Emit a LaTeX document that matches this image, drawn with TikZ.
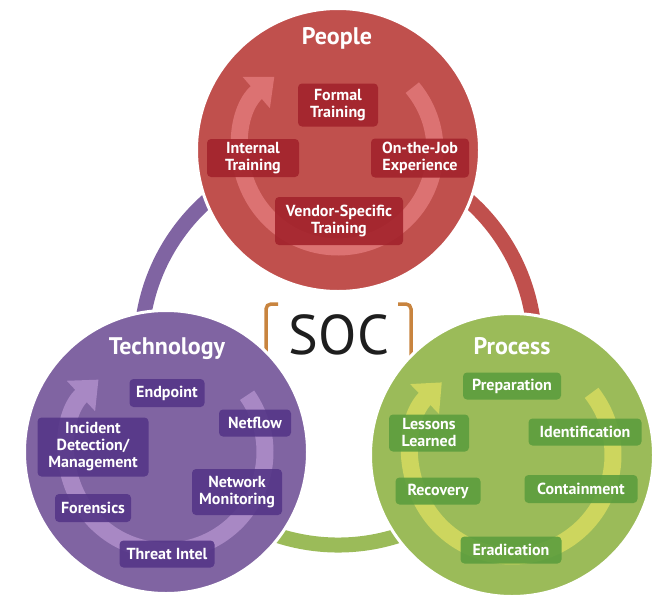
\documentclass[tikz,border=0pt]{standalone}
\usepackage{fontspec}
\setmainfont{PT Sans}
\usetikzlibrary{arrows.meta}

\definecolor{peoplered}{HTML}{C0504D}
\definecolor{peoplebox}{HTML}{A3232C}
\definecolor{peoplelight}{HTML}{DC7272}
\definecolor{techpurple}{HTML}{8064A2}
\definecolor{techbox}{HTML}{553688}
\definecolor{techlight}{HTML}{A888C4}
\definecolor{procgreen}{HTML}{9BBB59}
\definecolor{procbox}{HTML}{5C9E3E}
\definecolor{proclight}{HTML}{CDD65E}
\definecolor{bracketorange}{HTML}{C8843F}

\begin{document}
\begin{tikzpicture}[x=1pt, y=1pt,
    ring/.style = {line width=15pt},
    bubble/.style = {circle, draw=white, line width=3pt, minimum size=283pt, inner sep=0pt},
    cycle arrow/.style = {line width=17pt, -{Triangle[length=24pt, width=40pt]}},
    item/.style = {rounded corners=4pt, fill opacity=0.9, text opacity=1, text=white, align=center,
                   font=\bfseries\fontsize{16}{17}\selectfont, inner xsep=4pt, inner ysep=3pt},
    title/.style = {text=white, font=\bfseries\fontsize{24}{26}\selectfont},
    bracket/.style = {draw=bracketorange, line width=3.5pt, rounded corners=5pt}]
    \useasboundingbox (0,0) rectangle (663,-610);

    % outer ring, drawn first so the circles sit on it
    \coordinate (hub) at (338,-348);
    \draw[ring, techpurple] ([shift={(90:197)}]hub) arc[start angle=90, end angle=210, radius=197];
    \draw[ring, procgreen] ([shift={(210:197)}]hub) arc[start angle=210, end angle=330, radius=197];
    \draw[ring, peoplered] ([shift={(-30:197)}]hub) arc[start angle=-30, end angle=90, radius=197];

    % SOC in brackets
    \draw[bracket] (278,-304) -- (266,-304) -- (266,-372);
    \draw[bracket] (398,-304) -- (411,-304) -- (411,-372);
    \node (soc) at (339,-335) {\fontsize{56}{60}\selectfont\color[HTML]{1E1E1E}SOC};

    % the three circles
    \node[bubble, fill=peoplered] (people) at (338,-150) {};
    \node[bubble, fill=techpurple] (tech) at (166,-452) {};
    \node[bubble, fill=procgreen] (process) at (512,-455) {};

    % cycle arrows inside
    \draw[cycle arrow, peoplelight] ([shift={(40:97)}]people.center) arc[start angle=40, end angle=-229, radius=97];
    \draw[cycle arrow, techlight] ([shift={(35:99)}]tech.center) arc[start angle=35, end angle=-227, radius=99];
    \draw[cycle arrow, proclight] ([shift={(38:101)}]process.center) arc[start angle=38, end angle=-226, radius=101];

    \node[title] (peopletitle) at (337,-38) {People};
    \node[title] (techtitle) at (167,-349) {Technology};
    \node[title] (proctitle) at (512,-346) {Process};

    % People
    \node[item, fill=peoplebox, minimum width=80pt, minimum height=43pt] (formal) at (338,-105) {Formal\\Training};
    \node[item, fill=peoplebox, minimum width=92pt, minimum height=38pt] (internal) at (253,-158) {Internal\\Training};
    \node[item, fill=peoplebox, minimum width=98pt, minimum height=39pt] (onjob) at (420,-158) {On-the-Job\\Experience};
    \node[item, fill=peoplebox, minimum width=128pt, minimum height=48pt] (vendor) at (339,-221) {Vendor-Specific\\Training};

    % Technology
    \node[item, fill=techbox, minimum width=75pt, minimum height=28pt] (endpoint) at (167,-393) {Endpoint};
    \node[item, fill=techbox, minimum width=72pt, minimum height=27pt] (netflow) at (255,-423) {Netflow};
    \node[item, fill=techbox, minimum width=111pt, minimum height=59pt] (incident) at (93,-447) {Incident\\Detection/\\Management};
    \node[item, fill=techbox, minimum width=90pt, minimum height=46pt] (netmon) at (237,-492) {Network\\Monitoring};
    \node[item, fill=techbox, minimum width=76pt, minimum height=28pt] (forensics) at (93,-508) {Forensics};
    \node[item, fill=techbox, minimum width=95pt, minimum height=27pt] (threat) at (167,-554) {Threat Intel};

    % Process
    \node[item, fill=procbox, minimum width=98pt, minimum height=27pt] (prep) at (512,-386) {Preparation};
    \node[item, fill=procbox, minimum width=80pt, minimum height=37pt] (lessons) at (429,-433) {Lessons\\Learned};
    \node[item, fill=procbox, minimum width=113pt, minimum height=27pt] (ident) at (585,-432) {Identification};
    \node[item, fill=procbox, minimum width=85pt, minimum height=27pt] (recovery) at (438,-491) {Recovery};
    \node[item, fill=procbox, minimum width=113pt, minimum height=28pt] (contain) at (581,-489) {Containment};
    \node[item, fill=procbox, minimum width=101pt, minimum height=27pt] (erad) at (511,-550) {Eradication};
\end{tikzpicture}
\end{document}
